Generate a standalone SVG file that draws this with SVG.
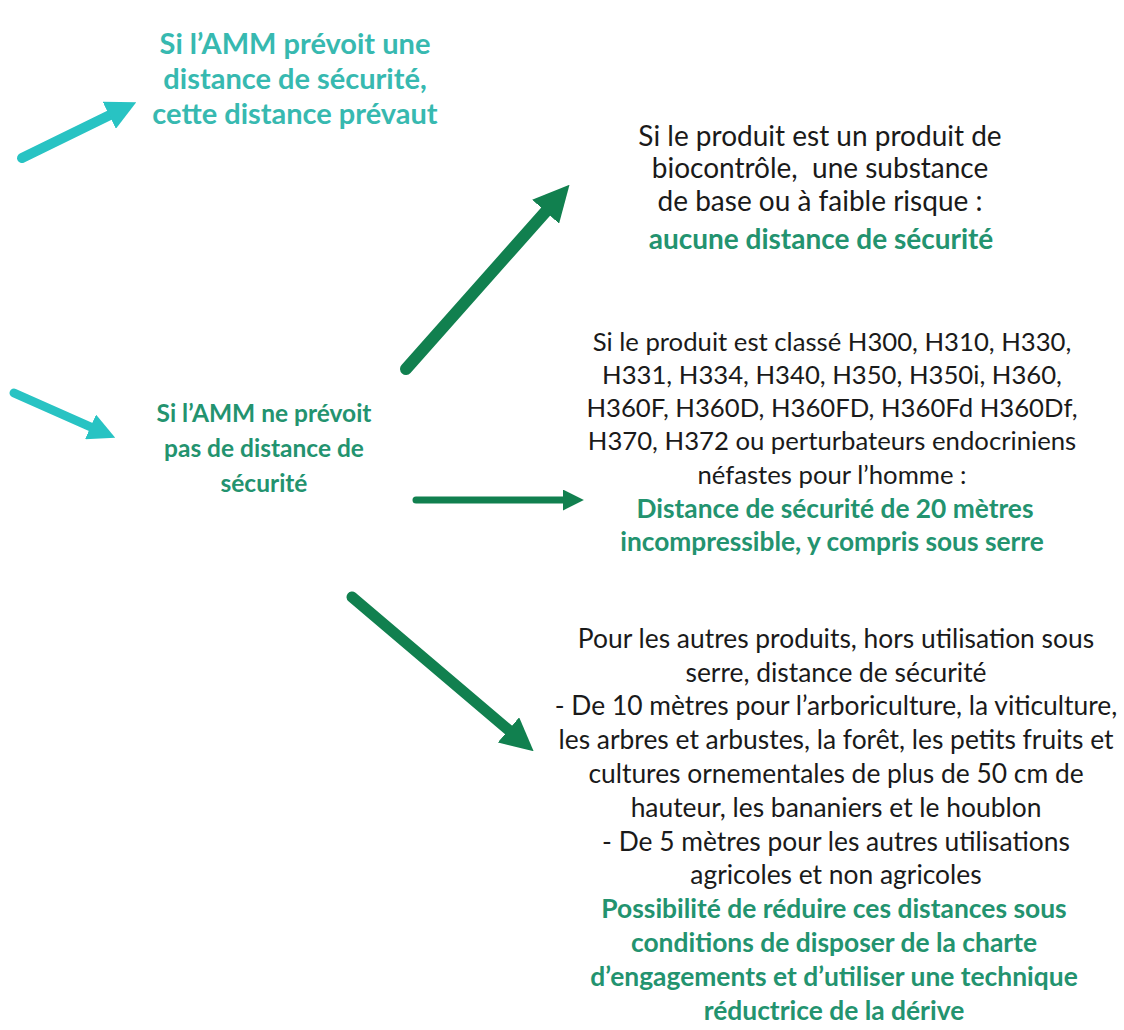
<svg xmlns="http://www.w3.org/2000/svg" width="1124" height="1030" viewBox="0 0 1124 1030">
<style>
text{font-family:Lato,"Open Sans","Liberation Sans",sans-serif;font-size:25.7px;text-anchor:middle}
.b{fill:#1a1a1a}
.g{fill:#23936f;font-weight:bold}
.c{fill:#37b9b0;font-weight:bold;font-size:29px}
.m{font-size:24.5px}
.n1{font-size:28px}
.n2g{font-size:26.3px}
.n3{font-size:26.4px}
.cy{stroke:#28c3c3;fill:none;stroke-linecap:round}
.gr{stroke:#11804f;fill:none;stroke-linecap:round}
</style>
<defs>
<marker id="hc" viewBox="0 0 10 10" refX="1" refY="5" markerWidth="3" markerHeight="3" orient="auto" markerUnits="strokeWidth"><path d="M0,0L10,5L0,10z" fill="#28c3c3"/></marker>
<marker id="hg" viewBox="0 0 10 10" refX="1" refY="5" markerWidth="3" markerHeight="3" orient="auto" markerUnits="strokeWidth"><path d="M0,0L10,5L0,10z" fill="#11804f"/></marker>
</defs>
<rect width="1124" height="1030" fill="#ffffff"/>
<g id="connectors">
<line class="cy" x1="22" y1="158" x2="112" y2="114" stroke-width="10" marker-end="url(#hc)"/>
<line class="cy" x1="14" y1="393" x2="93" y2="428" stroke-width="9" marker-end="url(#hc)"/>
<line class="gr" x1="406" y1="369" x2="548" y2="209" stroke-width="12" marker-end="url(#hg)"/>
<line class="gr" x1="416" y1="500" x2="565" y2="500" stroke-width="7" marker-end="url(#hg)"/>
<line class="gr" x1="352" y1="597" x2="511" y2="732" stroke-width="11" marker-end="url(#hg)"/>
</g>
<g id="node-amm-oui">
<text class="c" x="295" y="54">Si l’AMM prévoit une</text>
<text class="c" x="295" y="89">distance de sécurité,</text>
<text class="c" x="295" y="124">cette distance prévaut</text>
</g>
<g id="node-amm-non">
<text class="g m" x="264" y="422">Si l’AMM ne prévoit</text>
<text class="g m" x="264" y="457">pas de distance de</text>
<text class="g m" x="264" y="492">sécurité</text>
</g>
<g id="node-biocontrole">
<text class="b n1" x="820" y="146">Si le produit est un produit de</text>
<text class="b n1" x="820" y="178" xml:space="preserve">biocontrôle,  une substance</text>
<text class="b n1" x="820" y="211">de base ou à faible risque :</text>
<text class="g n1" x="821" y="249">aucune distance de sécurité</text>
</g>
<g id="node-h300">
<text class="b" x="832" y="351">Si le produit est classé H300, H310, H330,</text>
<text class="b" x="832" y="384">H331, H334, H340, H350, H350i, H360,</text>
<text class="b" x="832" y="417">H360F, H360D, H360FD, H360Fd H360Df,</text>
<text class="b" x="832" y="450">H370, H372 ou perturbateurs endocriniens</text>
<text class="b" x="832" y="484">néfastes pour l’homme :</text>
<text class="g n2g" x="835" y="518">Distance de sécurité de 20 mètres</text>
<text class="g n2g" x="832" y="551">incompressible, y compris sous serre</text>
</g>
<g id="node-autres">
<text class="b n3" x="836" y="648">Pour les autres produits, hors utilisation sous</text>
<text class="b n3" x="836" y="682">serre, distance de sécurité</text>
<text class="b n3" x="836" y="715">- De 10 mètres pour l’arboriculture, la viticulture,</text>
<text class="b n3" x="836" y="749">les arbres et arbustes, la forêt, les petits fruits et</text>
<text class="b n3" x="836" y="783">cultures ornementales de plus de 50 cm de</text>
<text class="b n3" x="836" y="817">hauteur, les bananiers et le houblon</text>
<text class="b n3" x="836" y="851">- De 5 mètres pour les autres utilisations</text>
<text class="b n3" x="836" y="884">agricoles et non agricoles</text>
<text class="g n3" x="834" y="918">Possibilité de réduire ces distances sous</text>
<text class="g n3" x="834" y="952">conditions de disposer de la charte</text>
<text class="g n3" x="834" y="986">d’engagements et d’utiliser une technique</text>
<text class="g n3" x="834" y="1020">réductrice de la dérive</text>
</g>
</svg>
